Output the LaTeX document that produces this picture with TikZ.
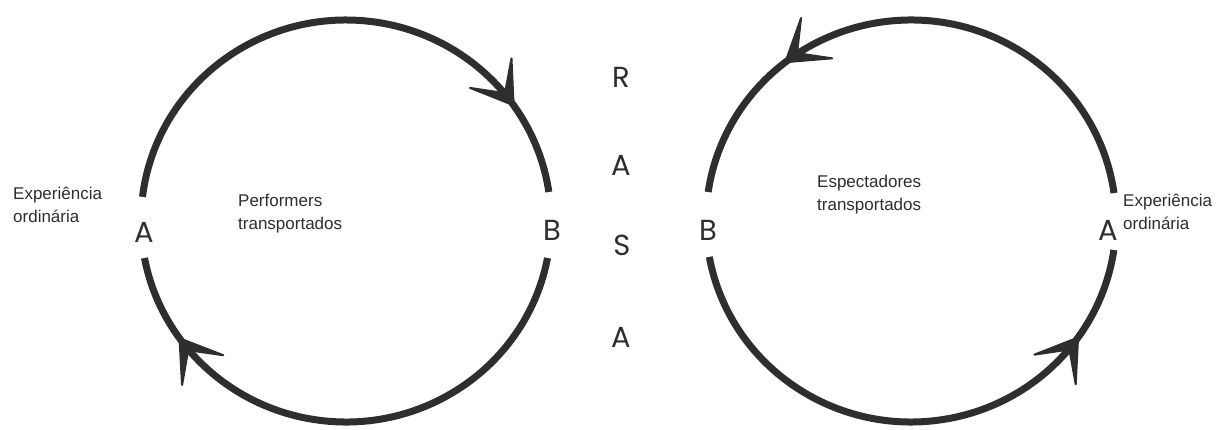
\documentclass[tikz,border=0pt]{standalone}
\usepackage{fontspec}
\setmainfont{Liberation Sans}
\newfontfamily\geo{Poppins}
\usetikzlibrary{arrows.meta,decorations.markings}
\definecolor{ink}{HTML}{2E2E2E}
\begin{document}
\begin{tikzpicture}[x=1pt,y=1pt,
  ring/.style={draw=ink, line width=7pt},
  barbat/.style={postaction={decorate}, decoration={markings,
     mark=at position #1 with {\arrow{Stealth[length=48pt,width=62pt,inset=30pt,line width=2pt,round]}}}},
  letter/.style={font=\geo\fontsize{29}{29}\selectfont, text=ink, inner sep=0pt},
  txt/.style={font=\fontsize{17}{23}\selectfont, align=left, inner sep=0pt, anchor=west, text=ink}]
\useasboundingbox[fill=white] (0,0) rectangle (1219,429);
\coordinate (L) at (346,208);
\coordinate (Rc) at (911,208);
% left circle
\draw[ring, barbat=0.84]
  ([shift={(173.1:205pt and 201pt)}]L) arc[start angle=173.1, end angle=8.3, x radius=205pt, y radius=201pt];
\draw[ring, barbat=0.845]
  ([shift={(349.4:205pt and 201pt)}]L) arc[start angle=349.4, end angle=190.6, x radius=205pt, y radius=201pt];
% right circle
\draw[ring, barbat=0.735]
  ([shift={(8:205pt and 201pt)}]Rc) arc[start angle=8, end angle=171.7, x radius=205pt, y radius=201pt];
\draw[ring, barbat=0.835]
  ([shift={(190.3:205pt and 201pt)}]Rc) arc[start angle=190.3, end angle=351.7, x radius=205pt, y radius=201pt];
% letters
\node[letter] (A1) at (144,197) {A};
\node[letter] (B1) at (552,199) {B};
\node[letter] (B2) at (708,199) {B};
\node[letter] (A2) at (1108,199) {A};
\node[letter] (r1) at (621,352) {R};
\node[letter] (r2) at (621,264) {A};
\node[letter] (r3) at (622,184) {S};
\node[letter] (r4) at (621,92) {A};
% labels
\node[txt] (e1) at (13,224.5) {Experiência\\ordinária};
\node[txt] (p1) at (238,215.5) {Performers\\transportados};
\node[txt] (s1) at (817,234.5) {Espectadores\\transportados};
\node[txt] (e2) at (1123,217.5) {Experiência\\ordinária};
\end{tikzpicture}
\end{document}
